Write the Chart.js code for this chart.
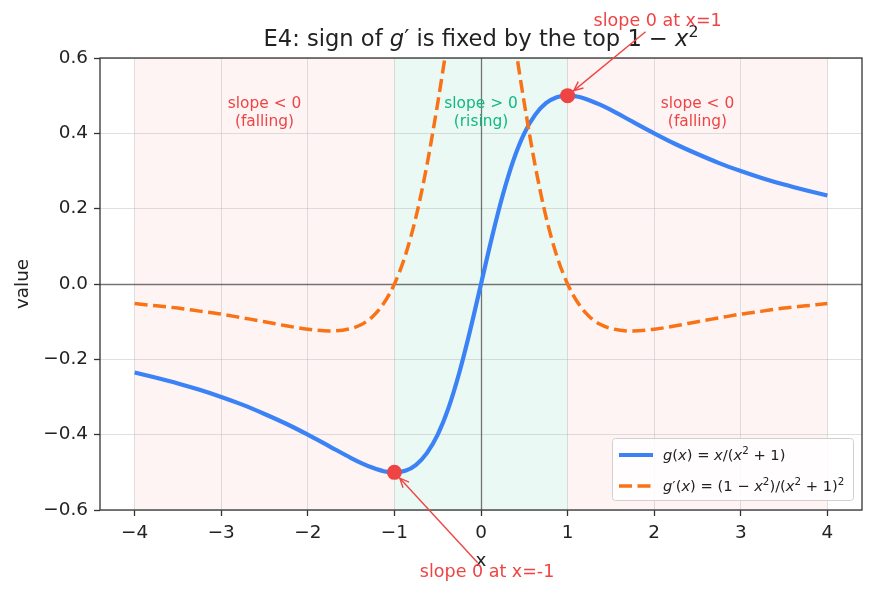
<!DOCTYPE html>
<html>
<head>
<meta charset="utf-8">
<script src="https://cdn.jsdelivr.net/npm/chart.js@4.4.1/dist/chart.umd.min.js"></script>
<style>
  html, body { margin: 0; padding: 0; background: #fff; }
  #wrap { width: 875px; height: 596px; }
</style>
</head>
<body>
<div id="wrap"><canvas id="c" width="875" height="596"></canvas></div>
<script>
// ── data ────────────────────────────────────────────────────────────────────
const xs = [-4, -3.75, -3.5, -3.25, -3, -2.75, -2.5, -2.25, -2, -1.75, -1.5, -1.375, -1.25, -1.125,
  -1, -0.875, -0.75, -0.625, -0.5, -0.375, -0.25, -0.125, 0, 0.125, 0.25, 0.375, 0.5, 0.625, 0.75,
  0.875, 1, 1.125, 1.25, 1.375, 1.5, 1.75, 2, 2.25, 2.5, 2.75, 3, 3.25, 3.5, 3.75, 4];
const gVals = [-0.235, -0.249, -0.264, -0.281, -0.300, -0.321, -0.345, -0.371, -0.400, -0.431, -0.462,
  -0.476, -0.488, -0.497, -0.500, -0.496, -0.480, -0.449, -0.400, -0.329, -0.235, -0.123, 0, 0.123,
  0.235, 0.329, 0.400, 0.449, 0.480, 0.496, 0.500, 0.497, 0.488, 0.476, 0.462, 0.431, 0.400, 0.371,
  0.345, 0.321, 0.300, 0.281, 0.264, 0.249, 0.235];
const dgVals = [-0.052, -0.058, -0.064, -0.072, -0.080, -0.090, -0.100, -0.111, -0.120, -0.125, -0.118,
  -0.107, -0.086, -0.052, 0.000, 0.075, 0.179, 0.315, 0.480, 0.661, 0.830, 0.954, 1.000, 0.954, 0.830,
  0.661, 0.480, 0.315, 0.179, 0.075, 0.000, -0.052, -0.086, -0.107, -0.118, -0.125, -0.120, -0.111,
  -0.100, -0.090, -0.080, -0.072, -0.064, -0.058, -0.052];
const critX = [-1, 1];
const critY = [-0.5, 0.5];
const xTicks = [-4, -3, -2, -1, 0, 1, 2, 3, 4];
const yTicks = [-0.6, -0.4, -0.2, 0, 0.2, 0.4, 0.6];
const spanEdges = [-4, -1, 1, 4];           // falling | rising | falling

const FONT = 'DejaVu Sans';
const RED = '#ef4444', GREEN = '#10b981', BLUE = '#3b82f6', ORANGE = '#f97316';
const DASH = [13, 5.5];
const minus = s => s.replace('-', '\u2212');

// rich text (italic / superscript pieces, like mathtext)
function segFont(s, size) {
  const sz = s.sup ? size * 0.7 : size;
  return (s.i ? 'italic ' : '') + sz + 'px "' + FONT + '"';
}
function richWidth(ctx, segs, size) {
  let w = 0;
  segs.forEach(s => { ctx.font = segFont(s, size); w += ctx.measureText(s.t).width; });
  return w;
}
function drawRich(ctx, segs, x, y, size, align) {
  let cx = align === 'center' ? x - richWidth(ctx, segs, size) / 2 : x;
  ctx.textAlign = 'left';
  ctx.textBaseline = 'alphabetic';
  segs.forEach(s => {
    ctx.font = segFont(s, size);
    ctx.fillText(s.t, cx, s.sup ? y - size * 0.38 : y);
    cx += ctx.measureText(s.t).width;
  });
}

const titleSegs = [{ t: 'E4: sign of ' }, { t: 'g', i: true }, { t: '\u2032 is fixed by the top 1 \u2212 ' },
  { t: 'x', i: true }, { t: '2', sup: true }];
const leg1 = [{ t: 'g', i: true }, { t: '(' }, { t: 'x', i: true }, { t: ') = ' }, { t: 'x', i: true },
  { t: '/(' }, { t: 'x', i: true }, { t: '2', sup: true }, { t: ' + 1)' }];
const leg2 = [{ t: 'g', i: true }, { t: '\u2032(' }, { t: 'x', i: true }, { t: ') = (1 \u2212 ' },
  { t: 'x', i: true }, { t: '2', sup: true }, { t: ')/(' }, { t: 'x', i: true }, { t: '2', sup: true },
  { t: ' + 1)' }, { t: '2', sup: true }];

function arrow(ctx, tx, ty, tw, th, px, py) {
  const dx = px - tx, dy = py - ty, len = Math.hypot(dx, dy);
  const ux = dx / len, uy = dy / len;
  const tEdge = Math.min(Math.abs((tw / 2) / (ux || 1e-9)), Math.abs((th / 2) / (uy || 1e-9))) + 3;
  const sx = tx + ux * tEdge, sy = ty + uy * tEdge;
  const ex = px - ux * 8, ey = py - uy * 8;
  ctx.save();
  ctx.strokeStyle = RED;
  ctx.lineWidth = 1.4;
  ctx.beginPath(); ctx.moveTo(sx, sy); ctx.lineTo(ex, ey); ctx.stroke();
  const a = Math.atan2(uy, ux), hl = 10, hw = 0.42;
  ctx.beginPath();
  ctx.moveTo(ex - hl * Math.cos(a - hw), ey - hl * Math.sin(a - hw));
  ctx.lineTo(ex, ey);
  ctx.lineTo(ex - hl * Math.cos(a + hw), ey - hl * Math.sin(a + hw));
  ctx.stroke();
  ctx.restore();
}

const decor = {
  id: 'decor',
  beforeDraw(chart) {
    const { ctx, chartArea: a, scales: { x } } = chart;
    ctx.save();
    for (let k = 0; k < spanEdges.length - 1; k++) {
      ctx.fillStyle = k === 1 ? 'rgba(16,185,129,0.085)' : 'rgba(239,68,68,0.06)';
      const x0 = x.getPixelForValue(spanEdges[k]), x1 = x.getPixelForValue(spanEdges[k + 1]);
      ctx.fillRect(x0, a.top, x1 - x0, a.bottom - a.top);
    }
    ctx.restore();
  },
  beforeDatasetsDraw(chart) {
    const { ctx, chartArea: a, scales: { x, y } } = chart;
    ctx.save();
    ctx.strokeStyle = 'rgba(70,70,70,0.7)';
    ctx.lineWidth = 1.3;
    const x0 = Math.round(x.getPixelForValue(0)) + 0.5, y0 = Math.round(y.getPixelForValue(0)) + 0.5;
    ctx.beginPath();
    ctx.moveTo(x0, a.top); ctx.lineTo(x0, a.bottom);
    ctx.moveTo(a.left, y0); ctx.lineTo(a.right, y0);
    ctx.stroke();

    // region labels
    ctx.textAlign = 'center';
    ctx.textBaseline = 'middle';
    ctx.font = '15.4px "' + FONT + '"';
    const ly = y.getPixelForValue(0.455);
    [[-2.5, RED, 'slope < 0', '(falling)'], [0, GREEN, 'slope > 0', '(rising)'],
     [2.5, RED, 'slope < 0', '(falling)']].forEach(([v, c, l1, l2]) => {
      ctx.fillStyle = c;
      const px = x.getPixelForValue(v);
      ctx.fillText(l1, px, ly - 9);
      ctx.fillText(l2, px, ly + 9);
    });
    ctx.restore();
  },
  afterDatasetsDraw(chart) {
    const { ctx, chartArea: a, scales: { x, y } } = chart;
    ctx.save();
    // frame
    ctx.strokeStyle = '#333';
    ctx.lineWidth = 1.3;
    ctx.strokeRect(a.left, a.top, a.right - a.left, a.bottom - a.top);

    // title + axis labels
    ctx.fillStyle = '#222';
    drawRich(ctx, titleSegs, (a.left + a.right) / 2, 46, 22.6, 'center');
    ctx.font = '18.4px "' + FONT + '"';
    ctx.textAlign = 'center';
    ctx.textBaseline = 'middle';
    ctx.fillText('x', (a.left + a.right) / 2, 561);
    ctx.save();
    ctx.translate(23, (a.top + a.bottom) / 2);
    ctx.rotate(-Math.PI / 2);
    ctx.fillText('value', 0, 0);
    ctx.restore();

    // annotations
    ctx.font = '17.5px "' + FONT + '"';
    ctx.fillStyle = RED;
    [[2.04, 0.696, 'slope 0 at x=1', 1], [0.07, -0.767, 'slope 0 at x=-1', 0]].forEach(([tx, ty, txt, i]) => {
      const px = x.getPixelForValue(tx), py = y.getPixelForValue(ty);
      ctx.textAlign = 'center'; ctx.textBaseline = 'middle';
      ctx.fillText(txt, px, py);
      const tw = ctx.measureText(txt).width;
      arrow(ctx, px, py, tw, 16, x.getPixelForValue(critX[i]), y.getPixelForValue(critY[i]));
    });

    // legend
    const lx = 612, ly = 438, lw = 241, lh = 62;
    ctx.fillStyle = 'rgba(255,255,255,0.85)';
    ctx.strokeStyle = '#d0d0d0';
    ctx.lineWidth = 1;
    ctx.beginPath();
    ctx.roundRect(lx + 0.5, ly + 0.5, lw, lh, 3);
    ctx.fill(); ctx.stroke();
    ctx.lineWidth = 4.2; ctx.strokeStyle = BLUE;
    ctx.beginPath(); ctx.moveTo(619, 455); ctx.lineTo(653, 455); ctx.stroke();
    ctx.lineWidth = 3.5; ctx.strokeStyle = ORANGE; ctx.setLineDash(DASH);
    ctx.beginPath(); ctx.moveTo(619, 486); ctx.lineTo(653, 486); ctx.stroke();
    ctx.setLineDash([]);
    ctx.fillStyle = '#222';
    drawRich(ctx, leg1, 663, 460, 14.7, 'left');
    drawRich(ctx, leg2, 663, 491, 14.7, 'left');
    ctx.restore();
  }
};

const fmtX = v => minus(String(v));
const fmtY = v => minus(Number(v).toFixed(1));
const gridOpts = { color: 'rgba(176,176,176,0.45)', lineWidth: 0.9, tickColor: '#333', tickLength: 6, tickWidth: 1.3 };

new Chart(document.getElementById('c').getContext('2d'), {
  type: 'scatter',
  data: {
    datasets: [
      {
        label: 'critical points',
        data: critX.map((v, i) => ({ x: v, y: critY[i] })),
        pointRadius: 7.5,
        pointBackgroundColor: RED,
        pointBorderWidth: 0,
        order: 0
      },
      {
        label: "g'(x)",
        data: xs.map((v, i) => ({ x: v, y: dgVals[i] })),
        showLine: true,
        borderColor: ORANGE,
        borderWidth: 3.5,
        borderDash: DASH,
        pointRadius: 0,
        cubicInterpolationMode: 'monotone',
        order: 1
      },
      {
        label: 'g(x)',
        data: xs.map((v, i) => ({ x: v, y: gVals[i] })),
        showLine: true,
        borderColor: BLUE,
        borderWidth: 4.2,
        pointRadius: 0,
        cubicInterpolationMode: 'monotone',
        order: 2
      }
    ]
  },
  options: {
    responsive: false,
    animation: false,
    events: [],
    layout: { padding: { top: 58, right: 13, left: 0, bottom: 0 } },
    plugins: { legend: { display: false }, title: { display: false }, tooltip: { enabled: false } },
    scales: {
      x: {
        type: 'linear', min: -4.4, max: 4.4,
        afterBuildTicks: s => { s.ticks = xTicks.map(v => ({ value: v })); },
        afterFit: s => { s.height = 86; },
        grid: gridOpts,
        border: { display: false },
        ticks: { callback: fmtX, color: '#222', padding: 6, maxRotation: 0, font: { family: FONT, size: 18.4 } }
      },
      y: {
        type: 'linear', min: -0.6, max: 0.6,
        afterBuildTicks: s => { s.ticks = yTicks.map(v => ({ value: v })); },
        afterFit: s => { s.width = 100; },
        grid: gridOpts,
        border: { display: false },
        ticks: { callback: fmtY, color: '#222', padding: 6, font: { family: FONT, size: 18.4 } }
      }
    }
  },
  plugins: [decor]
});
</script>
</body>
</html>
